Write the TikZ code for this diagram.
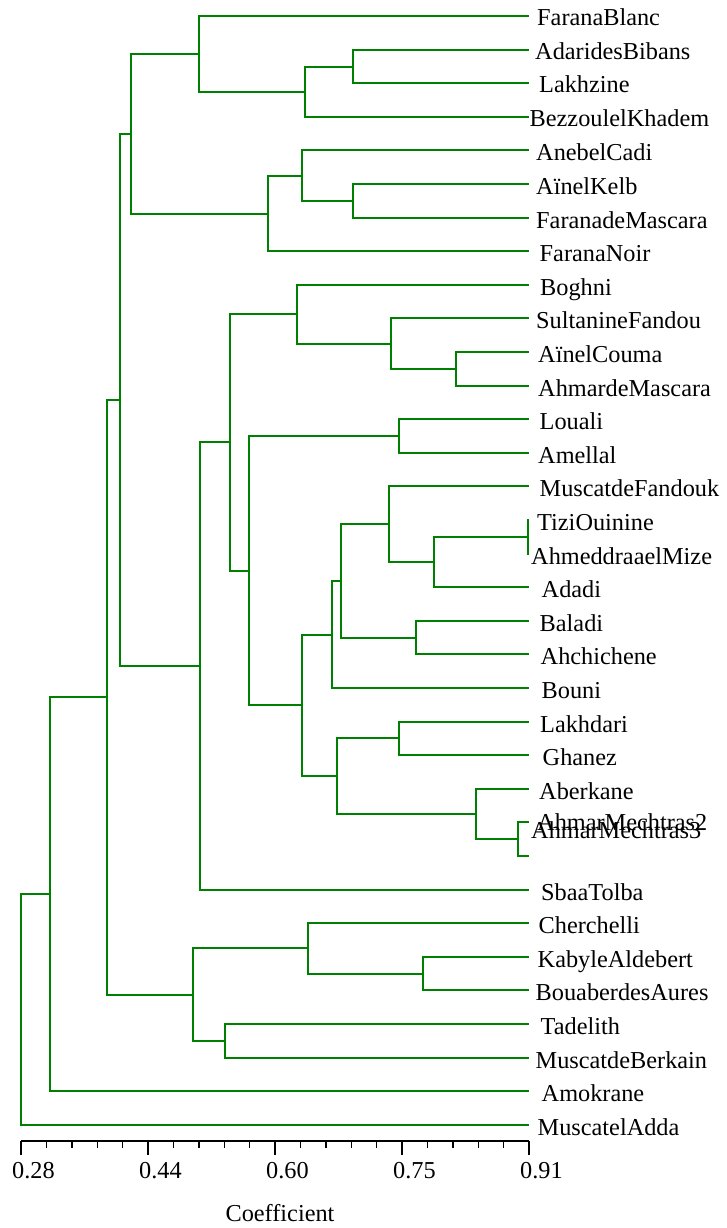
\documentclass[tikz,border=0pt]{standalone}
\usepackage{fontspec}
\setmainfont{Liberation Serif}
\definecolor{dgreen}{RGB}{0,128,0}
\begin{document}
\begin{tikzpicture}[x=1pt,y=-1pt,
  branch/.style={draw=dgreen, line width=1.8pt, line cap=rect},
  leaf/.style={anchor=base west, inner sep=0pt, font=\fontsize{24.3}{29}\selectfont},
  axisline/.style={draw=black, line width=1.4pt},
  ticklab/.style={anchor=base west, inner sep=0pt, font=\fontsize{24.3}{29}\selectfont},
  axtitle/.style={anchor=base, inner sep=0pt, font=\fontsize{24.3}{29}\selectfont}]
\useasboundingbox (0,0) rectangle (727,1228);
% leaf line ends
\foreach \i/\yy in {0/16,1/50,2/83,3/117,4/150,5/184,6/218,7/251,8/285,9/318,10/352,11/386,12/419,13/453,14/486,15/520,16/554,17/587,18/621,19/654,20/688,21/722,22/755,23/789,24/822,25/856,26/890,27/923,28/957,29/990,30/1024,31/1058,32/1091,33/1125}
  \coordinate (l\i) at (528,\yy);
% internal nodes
\coordinate (n1) at (353,67);
\coordinate (n2) at (305,92);
\coordinate (n3) at (199,54);
\coordinate (n4) at (353,201);
\coordinate (n5) at (302,176);
\coordinate (n6) at (268,214);
\coordinate (n7) at (131,134);
\coordinate (n8) at (456,369);
\coordinate (n9) at (391,344);
\coordinate (n10) at (297,314);
\coordinate (n11) at (399,436);
\coordinate (n12) at (528,537);
\coordinate (n13) at (434,562);
\coordinate (n14) at (389,524);
\coordinate (n15) at (416,638);
\coordinate (n16) at (341,581);
\coordinate (n17) at (332,635);
\coordinate (n18) at (399,738);
\coordinate (n19) at (518,839);
\coordinate (n20) at (476,814);
\coordinate (n21) at (337,776);
\coordinate (n22) at (302,705);
\coordinate (n23) at (249,571);
\coordinate (n24) at (230,442);
\coordinate (n25) at (200,666);
\coordinate (n26) at (120,400);
\coordinate (n27) at (423,974);
\coordinate (n28) at (308,948);
\coordinate (n29) at (225,1041);
\coordinate (n30) at (193,995);
\coordinate (n31) at (107,697);
\coordinate (n32) at (50,894);
\coordinate (n33) at (21,1010);
% branches
\draw[branch] (l1) -| (n1) |- (l2);
\draw[branch] (n1) -| (n2) |- (l3);
\draw[branch] (l0) -| (n3) |- (n2);
\draw[branch] (l5) -| (n4) |- (l6);
\draw[branch] (l4) -| (n5) |- (n4);
\draw[branch] (n5) -| (n6) |- (l7);
\draw[branch] (n3) -| (n7) |- (n6);
\draw[branch] (l10) -| (n8) |- (l11);
\draw[branch] (l9) -| (n9) |- (n8);
\draw[branch] (l8) -| (n10) |- (n9);
\draw[branch] (l12) -| (n11) |- (l13);
\draw[branch] (l15) -| (n12) |- (l16);
\draw[branch] (n12) -| (n13) |- (l17);
\draw[branch] (l14) -| (n14) |- (n13);
\draw[branch] (l18) -| (n15) |- (l19);
\draw[branch] (n14) -| (n16) |- (n15);
\draw[branch] (n16) -| (n17) |- (l20);
\draw[branch] (l21) -| (n18) |- (l22);
\draw[branch] (l24) -| (n19) |- (l25);
\draw[branch] (l23) -| (n20) |- (n19);
\draw[branch] (n18) -| (n21) |- (n20);
\draw[branch] (n17) -| (n22) |- (n21);
\draw[branch] (n11) -| (n23) |- (n22);
\draw[branch] (n10) -| (n24) |- (n23);
\draw[branch] (n24) -| (n25) |- (l26);
\draw[branch] (n7) -| (n26) |- (n25);
\draw[branch] (l28) -| (n27) |- (l29);
\draw[branch] (l27) -| (n28) |- (n27);
\draw[branch] (l30) -| (n29) |- (l31);
\draw[branch] (n28) -| (n30) |- (n29);
\draw[branch] (n26) -| (n31) |- (n30);
\draw[branch] (n31) -| (n32) |- (l32);
\draw[branch] (n32) -| (n33) |- (l33);
% labels
\node[leaf] (FaranaBlanc) at (537,26) {FaranaBlanc};
\node[leaf] (AdaridesBibans) at (535,60) {AdaridesBibans};
\node[leaf] (Lakhzine) at (539,93) {Lakhzine};
\node[leaf] (BezzoulelKhadem) at (529.5,127) {BezzoulelKhadem};
\node[leaf] (AnebelCadi) at (536,160) {AnebelCadi};
\node[leaf] (AinelKelb) at (536,194) {AïnelKelb};
\node[leaf] (FaranadeMascara) at (536,228) {FaranadeMascara};
\node[leaf] (FaranaNoir) at (539.5,261) {FaranaNoir};
\node[leaf] (Boghni) at (540,295) {Boghni};
\node[leaf] (SultanineFandou) at (536,328) {SultanineFandou};
\node[leaf] (AinelCouma) at (538,362) {AïnelCouma};
\node[leaf] (AhmardeMascara) at (538,396) {AhmardeMascara};
\node[leaf] (Louali) at (539.5,429) {Louali};
\node[leaf] (Amellal) at (538,463) {Amellal};
\node[leaf] (MuscatdeFandouk) at (539.5,496) {MuscatdeFandouk};
\node[leaf] (TiziOuinine) at (537,530) {TiziOuinine};
\node[leaf] (AhmeddraaelMize) at (531,564) {AhmeddraaelMize};
\node[leaf] (Adadi) at (541.5,597) {Adadi};
\node[leaf] (Baladi) at (539.5,631) {Baladi};
\node[leaf] (Ahchichene) at (540.5,664) {Ahchichene};
\node[leaf] (Bouni) at (541.5,698) {Bouni};
\node[leaf] (Lakhdari) at (540,732) {Lakhdari};
\node[leaf] (Ghanez) at (542.5,765) {Ghanez};
\node[leaf] (Aberkane) at (539,799) {Aberkane};
\node[leaf] (AhmarMechtrasB) at (537,830) {AhmarMechtras2};
\node[leaf] (AhmarMechtrasC) at (531,838) {AhmarMechtras3};
\node[leaf] (SbaaTolba) at (541,900) {SbaaTolba};
\node[leaf] (Cherchelli) at (538.5,933) {Cherchelli};
\node[leaf] (KabyleAldebert) at (537.5,967) {KabyleAldebert};
\node[leaf] (BouaberdesAures) at (535.5,1000) {BouaberdesAures};
\node[leaf] (Tadelith) at (540.5,1034) {Tadelith};
\node[leaf] (MuscatdeBerkain) at (535.5,1068) {MuscatdeBerkain};
\node[leaf] (Amokrane) at (541.5,1101) {Amokrane};
\node[leaf] (MuscatelAdda) at (537.5,1135) {MuscatelAdda};
% axis
\coordinate (ax0) at (21,1141);
\coordinate (ax1) at (529,1141);
\draw[axisline] (ax0) -- (ax1);
\foreach \k in {0,...,20} \draw[axisline] ({21+25.4*\k},1141) -- ++(0,7);
\foreach \k/\lab in {0/0.28,1/0.44,2/0.60,3/0.75,4/0.91} {
  \draw[axisline] ({21+127*\k},1141) -- ++(0,14);
  \node[ticklab] (t\k) at ({12+127*\k},1178) {\lab};
}
\node[axtitle] (coef) at (280,1221) {Coefficient};
\end{tikzpicture}
\end{document}
